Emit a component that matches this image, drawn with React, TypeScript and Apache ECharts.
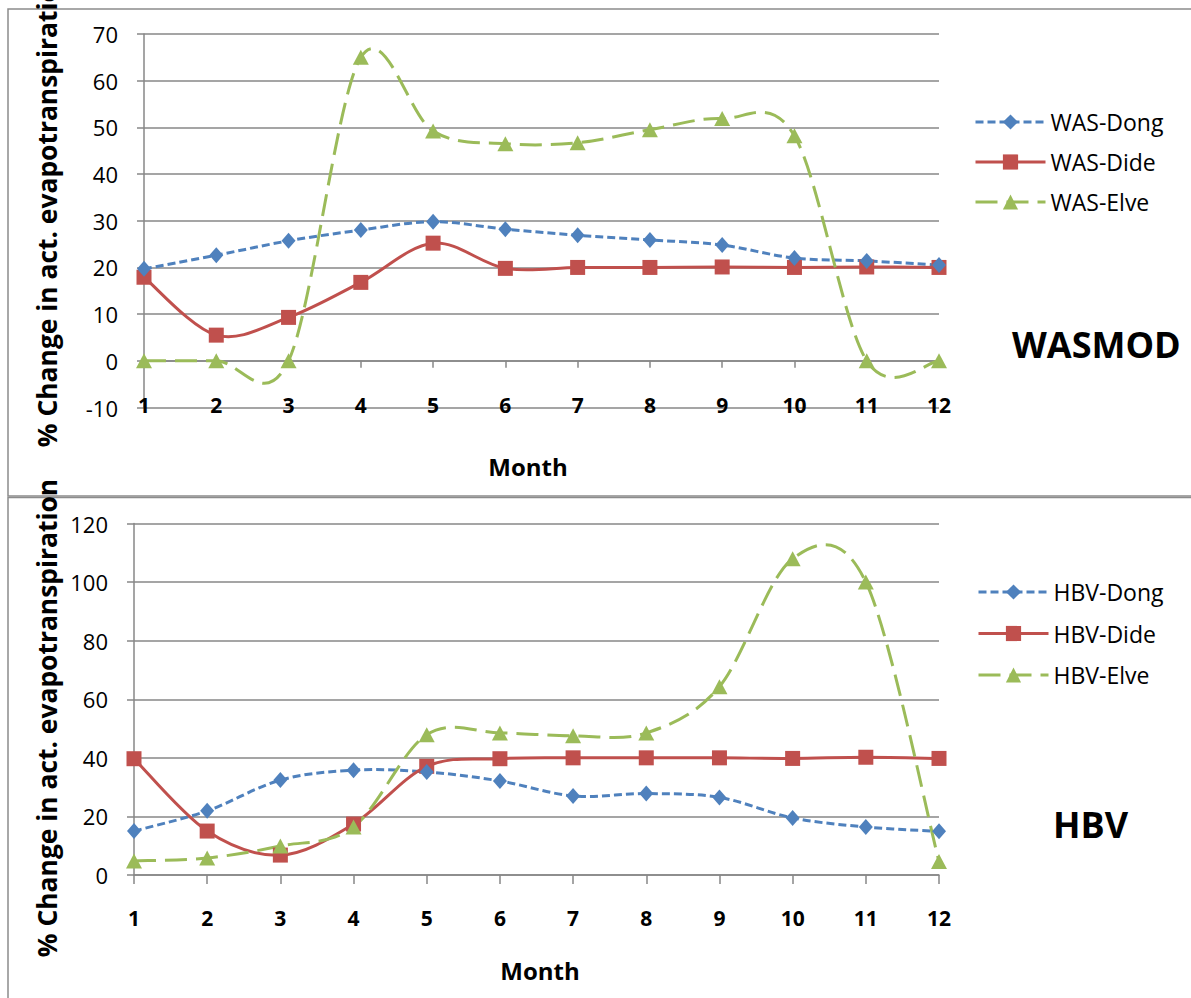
import React, { useEffect, useRef } from "react";
import * as echarts from "echarts";

const months = ["1", "2", "3", "4", "5", "6", "7", "8", "9", "10", "11", "12"];

const wasDong = [19.7, 22.6, 25.7, 28.0, 29.8, 28.2, 26.9, 25.9, 24.8, 22.0, 21.4, 20.5];
const wasDide = [17.9, 5.5, 9.3, 16.8, 25.2, 19.8, 20.0, 20.0, 20.1, 20.0, 20.1, 20.0];
const wasElve = [0, 0, 0, 65.0, 49.2, 46.5, 46.7, 49.5, 51.9, 48.2, 0, 0];

const hbvDong = [15.0, 21.9, 32.4, 35.8, 35.2, 32.1, 27.0, 27.8, 26.5, 19.5, 16.4, 14.9];
const hbvDide = [39.7, 15.0, 6.8, 17.4, 37.1, 39.7, 40.0, 40.0, 40.0, 39.8, 40.2, 39.8];
const hbvElve = [4.8, 5.8, 9.9, 16.4, 47.9, 48.5, 47.5, 48.5, 64.3, 108.0, 100.0, 4.6];

const wasTicks = { min: -10, max: 70, interval: 10 };
const hbvTicks = { min: 0, max: 120, interval: 20 };

const BLUE = "#4F81BD";
const RED = "#C0504D";
const GREEN = "#9BBB59";
const GRAY = "#878787";
const FONT = "'Open Sans', sans-serif";

type Kind = "dong" | "dide" | "elve";

function styleOf(kind: Kind) {
  const color = kind === "dong" ? BLUE : kind === "dide" ? RED : GREEN;
  const symbol = kind === "dong" ? "diamond" : kind === "dide" ? "rect" : "triangle";
  const symbolSize = kind === "dong" ? [14, 16] : kind === "dide" ? 15 : [16, 15];
  const dash: any = kind === "dong" ? [8, 4] : kind === "dide" ? "solid" : [22, 9];
  return { color, symbol, symbolSize, dash };
}

// Smoothed curve (Catmull-Rom style, like spreadsheet smoothing) drawn through axis coordinates
function curveSeries(name: string, data: number[], axis: number, kind: Kind) {
  const s = styleOf(kind);
  return {
    name: name + "-curve",
    type: "custom",
    coordinateSystem: "cartesian2d",
    xAxisIndex: axis === 0 ? 0 : 2,
    yAxisIndex: axis,
    data: data.map((v, i) => [i, v]),
    encode: { x: 0, y: 1 },
    silent: true,
    z: 2,
    renderItem: (params: any, api: any) => {
      if (params.dataIndex !== 0) return null;
      const pts = data.map((v, i) => api.coord([i, v]));
      const n = pts.length;
      const P = (i: number) => pts[Math.max(0, Math.min(n - 1, i))];
      let d = `M${pts[0][0]},${pts[0][1]}`;
      for (let i = 0; i < n - 1; i++) {
        const p0 = P(i - 1), p1 = P(i), p2 = P(i + 1), p3 = P(i + 2);
        const c1x = p1[0] + (p2[0] - p0[0]) / 6;
        const c1y = p1[1] + (p2[1] - p0[1]) / 6;
        const c2x = p2[0] - (p3[0] - p1[0]) / 6;
        const c2y = p2[1] - (p3[1] - p1[1]) / 6;
        d += ` C${c1x},${c1y} ${c2x},${c2y} ${p2[0]},${p2[1]}`;
      }
      return {
        type: "path",
        shape: { pathData: d },
        style: {
          fill: "none",
          stroke: s.color,
          lineWidth: 3,
          lineDash: Array.isArray(s.dash) ? s.dash : null,
        },
      };
    },
  };
}

function markerSeries(name: string, data: number[], axis: number, kind: Kind) {
  const s = styleOf(kind);
  return {
    name,
    type: "line",
    xAxisIndex: axis === 0 ? 0 : 2,
    yAxisIndex: axis,
    data,
    symbol: s.symbol,
    symbolSize: s.symbolSize,
    showAllSymbol: true,
    lineStyle: { color: s.color, width: 3, type: s.dash, opacity: 0 },
    itemStyle: { color: s.color },
    emphasis: { disabled: true },
    z: kind === "elve" ? 4 : kind === "dide" ? 3 : 5,
  };
}

function legendItem(name: string, kind: Kind) {
  const s = styleOf(kind);
  return {
    name,
    itemStyle: { color: s.color, opacity: 1 },
    lineStyle: { color: s.color, width: 3, type: s.dash, opacity: 1 },
  };
}

export default function App() {
  const ref = useRef<HTMLDivElement>(null);

  useEffect(() => {
    if (!ref.current) return;
    const chart = echarts.init(ref.current, null, { renderer: "svg" });

    const axisLineStyle = { color: GRAY, width: 1.5 };
    const yAxisCommon = {
      type: "value",
      axisLine: { show: true, lineStyle: axisLineStyle },
      axisTick: { show: true, length: 7, lineStyle: axisLineStyle },
      axisLabel: { color: "#000", fontSize: 22, fontFamily: FONT, margin: 26 },
      splitLine: { show: true, lineStyle: axisLineStyle },
    };

    const titleStyle = {
      text: "% Change in act. evapotranspiration",
      font: `bold 26.4px ${FONT}`,
      fill: "#000",
      textAlign: "center",
      textVerticalAlign: "middle",
    };

    const legendCommon = {
      orient: "vertical",
      padding: 0,
      itemWidth: 70,
      itemHeight: 19,
      selectedMode: false,
      textStyle: { color: "#000", fontSize: 23, lineHeight: 24, fontFamily: FONT },
    };

    const option = {
      animation: false,
      backgroundColor: "#fff",
      grid: [
        { left: 144, top: 34, width: 795, height: 373.5 },
        { left: 134, top: 523.5, width: 805, height: 351.5 },
      ],
      xAxis: [
        {
          gridIndex: 0,
          type: "category",
          data: months,
          boundaryGap: false,
          position: "bottom",
          axisLine: { show: true, onZero: true, lineStyle: axisLineStyle },
          axisTick: { show: true, length: 7, lineStyle: axisLineStyle },
          axisLabel: { show: false },
          splitLine: { show: false },
        },
        {
          gridIndex: 0,
          type: "category",
          data: months,
          boundaryGap: false,
          position: "bottom",
          axisLine: { show: false, onZero: false },
          axisTick: { show: false },
          axisLabel: { color: "#000", fontSize: 21, fontWeight: "bold", fontFamily: FONT, margin: -13 },
          splitLine: { show: false },
        },
        {
          gridIndex: 1,
          type: "category",
          data: months,
          boundaryGap: false,
          position: "bottom",
          axisLine: { show: true, onZero: true, lineStyle: axisLineStyle },
          axisTick: { show: true, length: 9, lineStyle: axisLineStyle },
          axisLabel: { color: "#000", fontSize: 21, fontWeight: "bold", fontFamily: FONT, margin: 32 },
          splitLine: { show: false },
        },
      ],
      yAxis: [
        { ...yAxisCommon, gridIndex: 0, ...wasTicks },
        { ...yAxisCommon, gridIndex: 1, ...hbvTicks },
      ],
      legend: [
        {
          ...legendCommon,
          data: [legendItem("WAS-Dong", "dong"), legendItem("WAS-Dide", "dide"), legendItem("WAS-Elve", "elve")],
          left: 974,
          top: 110,
          itemGap: 16,
        },
        {
          ...legendCommon,
          data: [legendItem("HBV-Dong", "dong"), legendItem("HBV-Dide", "dide"), legendItem("HBV-Elve", "elve")],
          left: 977,
          top: 580,
          itemGap: 17.5,
        },
      ],
      graphic: [
        {
          type: "rect",
          shape: { x: 8, y: 9, width: 1200, height: 487 },
          style: { fill: "none", stroke: "#8c8c8c", lineWidth: 1.5 },
          z: 0,
        },
        {
          type: "rect",
          shape: { x: 8, y: 497.5, width: 1200, height: 520 },
          style: { fill: "none", stroke: "#8c8c8c", lineWidth: 1.5 },
          z: 0,
        },
        { type: "text", x: 47, y: 208, rotation: Math.PI / 2, style: titleStyle },
        { type: "text", x: 47, y: 718, rotation: Math.PI / 2, style: titleStyle },
        {
          type: "text",
          x: 528,
          y: 466,
          style: { text: "Month", font: `bold 24px ${FONT}`, fill: "#000", textAlign: "center", textVerticalAlign: "middle" },
        },
        {
          type: "text",
          x: 540,
          y: 970,
          style: { text: "Month", font: `bold 24px ${FONT}`, fill: "#000", textAlign: "center", textVerticalAlign: "middle" },
        },
        {
          type: "text",
          x: 1012,
          y: 344,
          style: { text: "WASMOD", font: `bold 36px ${FONT}`, fill: "#000", textAlign: "left", textVerticalAlign: "middle" },
        },
        {
          type: "text",
          x: 1053,
          y: 824,
          style: { text: "HBV", font: `bold 36px ${FONT}`, fill: "#000", textAlign: "left", textVerticalAlign: "middle" },
        },
      ],
      series: [
        curveSeries("WAS-Dong", wasDong, 0, "dong"),
        curveSeries("WAS-Dide", wasDide, 0, "dide"),
        curveSeries("WAS-Elve", wasElve, 0, "elve"),
        curveSeries("HBV-Dong", hbvDong, 1, "dong"),
        curveSeries("HBV-Dide", hbvDide, 1, "dide"),
        curveSeries("HBV-Elve", hbvElve, 1, "elve"),
        markerSeries("WAS-Dong", wasDong, 0, "dong"),
        markerSeries("WAS-Dide", wasDide, 0, "dide"),
        markerSeries("WAS-Elve", wasElve, 0, "elve"),
        markerSeries("HBV-Dong", hbvDong, 1, "dong"),
        markerSeries("HBV-Dide", hbvDide, 1, "dide"),
        markerSeries("HBV-Elve", hbvElve, 1, "elve"),
      ],
    };

    chart.setOption(option as any);
    return () => chart.dispose();
  }, []);

  return (
    <div
      ref={ref}
      style={{ position: "absolute", left: 0, top: 0, width: 1191, height: 998, background: "#fff" }}
    />
  );
}
